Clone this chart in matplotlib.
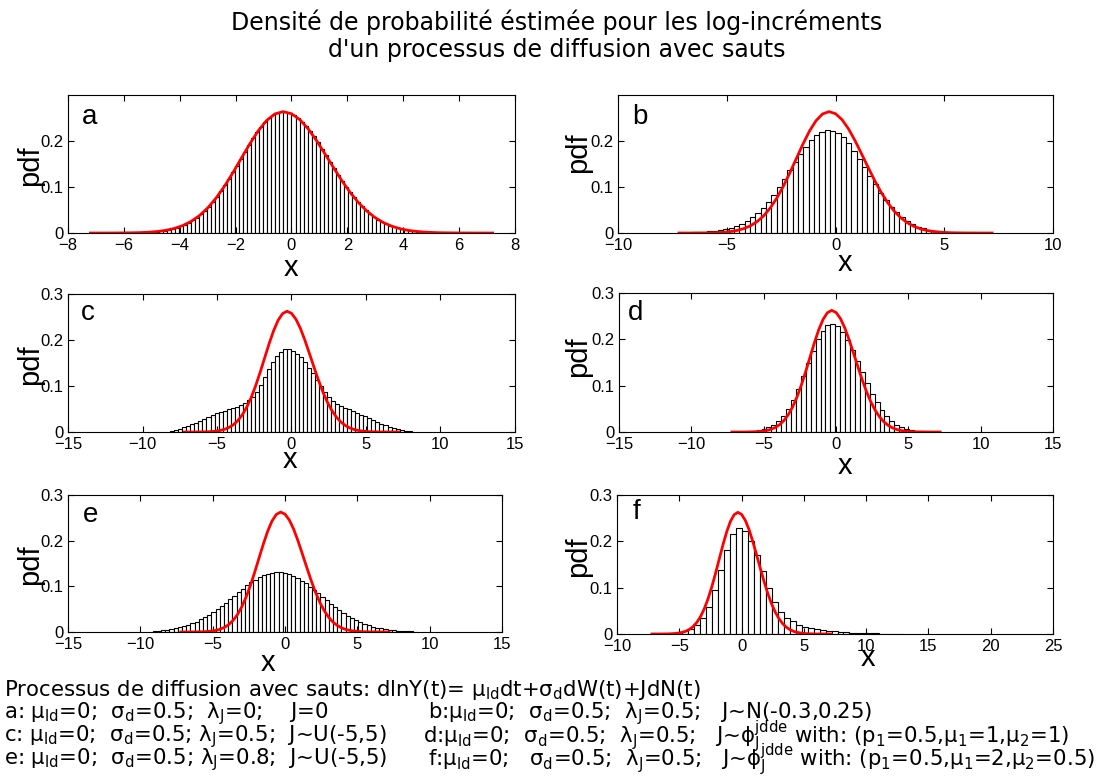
import numpy as np
import matplotlib
matplotlib.use("Agg")
import matplotlib.pyplot as plt

plt.rcParams['font.family'] = ['Liberation Sans', 'DejaVu Sans']
plt.rcParams['mathtext.fontset'] = 'dejavusans'
plt.rcParams['mathtext.default'] = 'regular'

# ---- density estimate (red curve), same in every panel ----
curve_x = np.linspace(-7.2, 7.2, 49)
curve_y = [0.0, 0.0, 0.0, 0.0001, 0.0002, 0.0005, 0.0009, 0.0018, 0.0033, 0.0058,
           0.0098, 0.0159, 0.0249, 0.0374, 0.0542, 0.0755, 0.1011, 0.1302, 0.1613, 0.1922,
           0.2203, 0.2428, 0.2574, 0.2625, 0.2580, 0.2451, 0.2250, 0.1995, 0.1709, 0.1419,
           0.1135, 0.0877, 0.0655, 0.0473, 0.0330, 0.0222, 0.0145, 0.0091, 0.0055, 0.0033,
           0.0019, 0.0010, 0.0005, 0.0003, 0.0001, 0.0001, 0.0, 0.0, 0.0]

# ---- histograms: first bin centre, bin width, bar heights ----
a_start, a_width = -4.968, 0.144
a_heights = [0.0023, 0.0031, 0.0041, 0.0054, 0.0070, 0.0090, 0.0114, 0.0144, 0.0180, 0.0224,
             0.0275, 0.0335, 0.0404, 0.0483, 0.0572, 0.0672, 0.0782, 0.0902, 0.1031, 0.1168,
             0.1312, 0.1460, 0.1610, 0.1760, 0.1907, 0.2047, 0.2177, 0.2296, 0.2400, 0.2486,
             0.2552, 0.2596, 0.2618, 0.2617, 0.2594, 0.2552, 0.2490, 0.2411, 0.2317, 0.2208,
             0.2088, 0.1958, 0.1822, 0.1683, 0.1542, 0.1401, 0.1264, 0.1131, 0.1004, 0.0884,
             0.0772, 0.0670, 0.0576, 0.0491, 0.0416, 0.0349, 0.0291, 0.0241, 0.0197, 0.0161,
             0.0130, 0.0104, 0.0083, 0.0065, 0.0051, 0.0040, 0.0030, 0.0023]

b_start, b_width = -6.5, 0.245
b_heights = [0.002, 0.002, 0.003, 0.004, 0.005, 0.006, 0.008, 0.011, 0.015, 0.020,
             0.026, 0.034, 0.043, 0.055, 0.068, 0.083, 0.100, 0.117, 0.136, 0.154,
             0.171, 0.187, 0.201, 0.211, 0.219, 0.222, 0.221, 0.216, 0.207, 0.194,
             0.178, 0.161, 0.142, 0.124, 0.105, 0.087, 0.071, 0.057, 0.045, 0.035,
             0.026, 0.019, 0.014, 0.010, 0.007, 0.005, 0.003, 0.002, 0.001]

c_start, c_width = -8.0, 0.27
c_heights = [0.002, 0.004, 0.006, 0.010, 0.013, 0.017, 0.020, 0.024, 0.029, 0.033,
             0.037, 0.041, 0.043, 0.046, 0.049, 0.052, 0.055, 0.059, 0.064, 0.069,
             0.077, 0.088, 0.102, 0.119, 0.137, 0.152, 0.166, 0.175, 0.181, 0.181,
             0.177, 0.170, 0.162, 0.152, 0.140, 0.128, 0.114, 0.100, 0.087, 0.076,
             0.067, 0.061, 0.057, 0.053, 0.049, 0.046, 0.042, 0.038, 0.034, 0.030,
             0.026, 0.022, 0.018, 0.015, 0.012, 0.009, 0.007, 0.005, 0.003, 0.002]

d_start, d_width = -6.0, 0.34
d_heights = [0.002, 0.003, 0.004, 0.006, 0.010, 0.015, 0.023, 0.034, 0.050, 0.069,
             0.093, 0.120, 0.148, 0.175, 0.200, 0.219, 0.230, 0.233, 0.228, 0.216,
             0.199, 0.177, 0.154, 0.129, 0.105, 0.083, 0.064, 0.047, 0.034, 0.024,
             0.016, 0.011, 0.007, 0.005, 0.003, 0.002, 0.001]

e_start, e_width = -9.0, 0.29
e_heights = [0.0024, 0.0031, 0.0040, 0.0052, 0.0066, 0.0083, 0.0103, 0.0128, 0.0157, 0.0191,
             0.0229, 0.0274, 0.0323, 0.0378, 0.0438, 0.0503, 0.0572, 0.0645, 0.0721, 0.0797,
             0.0874, 0.0949, 0.1021, 0.1088, 0.1148, 0.1201, 0.1245, 0.1278, 0.1300, 0.1309,
             0.1307, 0.1293, 0.1266, 0.1229, 0.1182, 0.1126, 0.1063, 0.0994, 0.0921, 0.0846,
             0.0768, 0.0692, 0.0617, 0.0546, 0.0478, 0.0414, 0.0357, 0.0304, 0.0256, 0.0214,
             0.0177, 0.0145, 0.0118, 0.0095, 0.0076, 0.0060, 0.0047, 0.0036, 0.0028, 0.0021,
             0.0016, 0.0012, 0.0009]

f_start, f_width = -5.5, 0.48
f_heights = [0.002, 0.004, 0.006, 0.011, 0.019, 0.034, 0.059, 0.095, 0.138, 0.182,
             0.216, 0.229, 0.222, 0.201, 0.171, 0.135, 0.100, 0.069, 0.048, 0.034,
             0.027, 0.019, 0.015, 0.012, 0.010, 0.008, 0.007, 0.006, 0.005, 0.004,
             0.003, 0.003, 0.002, 0.002, 0.0015, 0.001, 0.001, 0.0007, 0.0005]

panels = [
    # letter, start, width, heights, xlim, xticks, ytop, yticks
    ("a", a_start, a_width, a_heights, (-8, 8), range(-8, 9, 2), 0.2985, [0, 0.1, 0.2]),
    ("b", b_start, b_width, b_heights, (-10, 10), range(-10, 11, 5), 0.2985, [0, 0.1, 0.2]),
    ("c", c_start, c_width, c_heights, (-15, 15), range(-15, 16, 5), 0.3, [0, 0.1, 0.2, 0.3]),
    ("d", d_start, d_width, d_heights, (-15, 15), range(-15, 16, 5), 0.3, [0, 0.1, 0.2, 0.3]),
    ("e", e_start, e_width, e_heights, (-15, 15), range(-15, 16, 5), 0.3, [0, 0.1, 0.2, 0.3]),
    ("f", f_start, f_width, f_heights, (-10, 25), range(-10, 26, 5), 0.3, [0, 0.1, 0.2, 0.3]),
]

# axes rectangles in figure fraction
rects = [
    [0.0611, 0.7005, 0.4016, 0.1774],
    [0.5553, 0.7005, 0.3908, 0.1774],
    [0.0611, 0.4447, 0.4016, 0.1774],
    [0.5562, 0.4447, 0.3899, 0.1787],
    [0.0611, 0.1877, 0.3899, 0.1761],
    [0.5544, 0.1851, 0.3917, 0.1787],
]
letter_pos = [(0.049, 0.84), (0.051, 0.84), (0.045, 0.862), (0.039, 0.856), (0.051, 0.854), (0.044, 0.878)]
xlabel_pos = [(0.499, -0.254), (0.522, -0.217), (0.497, -0.203), (0.521, -0.245), (0.461, -0.226), (0.576, -0.173)]
ylabel_pos = [(-0.085, 0.49), (-0.092, 0.58), (-0.085, 0.486), (-0.094, 0.54), (-0.0876, 0.49), (-0.089, 0.554)]

fig = plt.figure(figsize=(11.13, 7.78), dpi=100)

for i, (letter, start, width, heights, xlim, xticks, ytop, yticks) in enumerate(panels):
    ax = fig.add_axes(rects[i])
    centers = start + width * np.arange(len(heights))
    ax.bar(centers, heights, width=width, facecolor='white', edgecolor='black', linewidth=0.8)
    ax.plot(curve_x, curve_y, color='red', linewidth=2)
    ax.set_xlim(*xlim)
    ax.set_ylim(0, ytop)
    ax.set_xticks(list(xticks))
    ax.set_yticks(yticks)
    ax.set_yticklabels(["0" if t == 0 else f"{t:g}" for t in yticks])
    ax.tick_params(direction='in', top=True, right=True, length=4, labelsize=12, width=0.8)
    for sp in ax.spines.values():
        sp.set_linewidth(0.8)
    ax.text(*letter_pos[i], letter, transform=ax.transAxes, fontsize=20, ha='center', va='center')
    ax.set_xlabel("x", fontsize=21)
    ax.xaxis.label.set_va('center')
    ax.xaxis.set_label_coords(*xlabel_pos[i])
    ax.set_ylabel("pdf", fontsize=21)
    ax.yaxis.label.set_va('center')
    ax.yaxis.set_label_coords(*ylabel_pos[i])

fig.text(0.5, 1 - 22 / 778, "Densité de probabilité éstimée pour les log-incréments",
         ha='center', va='center', fontsize=17, family='DejaVu Sans')
fig.text(0.5, 1 - 50 / 778, "d'un processus de diffusion avec sauts",
         ha='center', va='center', fontsize=17, family='DejaVu Sans')

# caption lines
cap = dict(fontsize=15.3, family='DejaVu Sans', va='center', ha='left')
fig.text(4 / 1113, 1 - 690 / 778,
         r"Processus de diffusion avec sauts: dlnY(t)= $\mu_{ld}$dt+$\sigma_d$dW(t)+JdN(t)", **cap)
fig.text(4 / 1113, 1 - 714 / 778, r"a: $\mu_{ld}$=0;  $\sigma_d$=0.5;  $\lambda_J$=0;    J=0", **cap)
fig.text(4 / 1113, 1 - 737 / 778, r"c: $\mu_{ld}$=0;  $\sigma_d$=0.5; $\lambda_J$=0.5;  J~U(-5,5)", **cap)
fig.text(4 / 1113, 1 - 760 / 778, r"e: $\mu_{ld}$=0;  $\sigma_d$=0.5; $\lambda_J$=0.8;  J~U(-5,5)", **cap)
fig.text(428 / 1113, 1 - 714 / 778,
         r"b:$\mu_{ld}$=0;  $\sigma_d$=0.5;  $\lambda_J$=0.5;   J~N(-0.3,0.25)", **cap)
fig.text(423 / 1113, 1 - 737 / 778,
         r"d:$\mu_{ld}$=0;  $\sigma_d$=0.5;  $\lambda_J$=0.5;   J~$\phi_J^{jdde}$ with: ($p_1$=0.5,$\mu_1$=1,$\mu_2$=1)", **cap)
fig.text(428 / 1113, 1 - 760 / 778,
         r"f:$\mu_{ld}$=0;   $\sigma_d$=0.5;  $\lambda_J$=0.5;   J~$\phi_J^{jdde}$ with: ($p_1$=0.5,$\mu_1$=2,$\mu_2$=0.5)", **cap)

fig.savefig("out.png", dpi=100)
